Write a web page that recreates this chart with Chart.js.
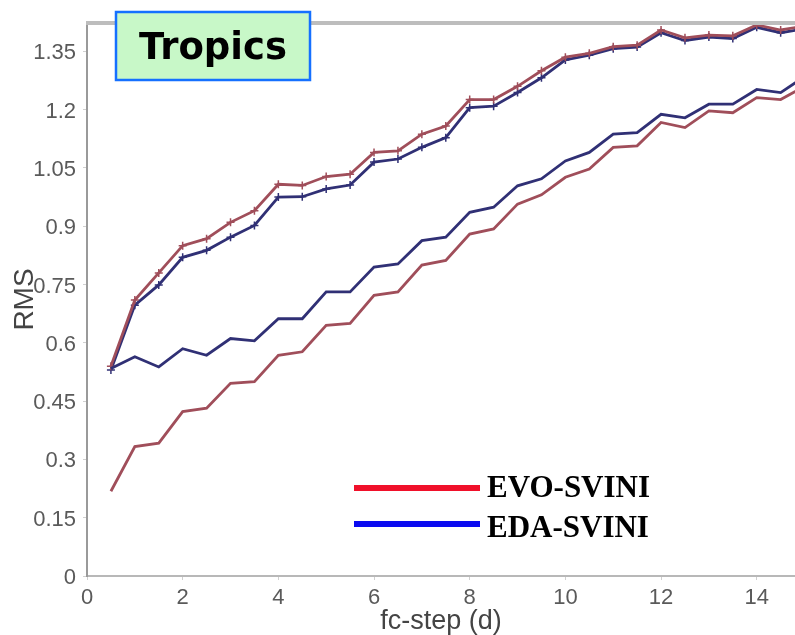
<!DOCTYPE html>
<html>
<head>
<meta charset="utf-8">
<script src="https://cdn.jsdelivr.net/npm/chart.js@4.4.1/dist/chart.umd.min.js"></script>
<style>
  html, body { margin: 0; padding: 0; background: #fff; }
  #wrap { position: relative; width: 795px; height: 635px; }
  canvas { display: block; }
</style>
</head>
<body>
<div id="wrap"><canvas id="rmsChart" width="795" height="635"></canvas></div>
<script>
// forecast step in days
const steps = [0.5, 1, 1.5, 2, 2.5, 3, 3.5, 4, 4.5, 5, 5.5, 6, 6.5, 7, 7.5,
               8, 8.5, 9, 9.5, 10, 10.5, 11, 11.5, 12, 12.5, 13, 13.5, 14, 14.5, 15];

// upper pair (with + markers)
const evoUpper = [0.54, 0.71, 0.78, 0.85, 0.868, 0.91, 0.94, 1.008, 1.005, 1.028,
                  1.034, 1.09, 1.094, 1.137, 1.158, 1.226, 1.226, 1.26, 1.30, 1.335,
                  1.345, 1.362, 1.366, 1.405, 1.385, 1.392, 1.39, 1.418, 1.405, 1.415];
const edaUpper = [0.53, 0.697, 0.749, 0.82, 0.838, 0.872, 0.902, 0.975, 0.976, 0.996,
                  1.006, 1.065, 1.073, 1.103, 1.128, 1.205, 1.209, 1.244, 1.282, 1.328,
                  1.34, 1.357, 1.361, 1.398, 1.378, 1.387, 1.383, 1.412, 1.398, 1.408];

// lower pair
const evoLower = [0.218, 0.333, 0.342, 0.423, 0.432, 0.496, 0.50, 0.568, 0.577, 0.645,
                  0.65, 0.722, 0.731, 0.80, 0.812, 0.88, 0.893, 0.957, 0.981, 1.026,
                  1.047, 1.103, 1.107, 1.167, 1.154, 1.197, 1.192, 1.231, 1.226, 1.26];
const edaLower = [0.534, 0.564, 0.538, 0.585, 0.568, 0.611, 0.605, 0.662, 0.662, 0.731,
                  0.731, 0.795, 0.803, 0.863, 0.872, 0.936, 0.949, 1.004, 1.022, 1.068,
                  1.09, 1.137, 1.141, 1.188, 1.179, 1.214, 1.214, 1.252, 1.244, 1.285];

const xTicks = [0, 2, 4, 6, 8, 10, 12, 14];
const yTicks = [0, 0.15, 0.3, 0.45, 0.6, 0.75, 0.9, 1.05, 1.2, 1.35];
const legendLabels = ['EVO-SVINI', 'EDA-SVINI'];
const panelTitle = 'Tropics';

const evoColor = '#a04e5a';
const edaColor = '#303075';

function points(values) {
    return steps.map((s, i) => ({ x: s, y: values[i] }));
}

function series(values, color, marked) {
    return {
        data: points(values),
        borderColor: color,
        backgroundColor: color,
        borderWidth: 2.8,
        tension: 0,
        pointStyle: 'cross',
        pointRadius: marked ? 4 : 0,
        pointBorderWidth: 1.5,
        pointBorderColor: color
    };
}

// title box, top frame line and the legend inside the plot
const decorations = {
    id: 'decorations',
    afterDraw(chart) {
        const ctx = chart.ctx;
        const area = chart.chartArea;
        ctx.save();

        ctx.strokeStyle = '#bdbdbd';
        ctx.lineWidth = 4;
        ctx.beginPath();
        ctx.moveTo(area.left - 1, area.top);
        ctx.lineTo(area.right, area.top);
        ctx.stroke();

        ctx.fillStyle = '#c8f8c8';
        ctx.fillRect(116, 12, 194, 68);
        ctx.strokeStyle = '#1570ff';
        ctx.lineWidth = 2.5;
        ctx.strokeRect(116, 12, 194, 68);
        ctx.fillStyle = '#000';
        ctx.font = 'bold 37px "DejaVu Sans"';
        ctx.textAlign = 'center';
        ctx.textBaseline = 'alphabetic';
        ctx.fillText(panelTitle, 213, 59);

        ctx.fillStyle = '#f0102a';
        ctx.fillRect(354, 485, 126, 6);
        ctx.fillStyle = '#0a0af0';
        ctx.fillRect(354, 521, 126, 6);
        ctx.fillStyle = '#000';
        ctx.font = 'bold 31px "Liberation Serif"';
        ctx.textAlign = 'left';
        ctx.fillText(legendLabels[0], 487, 497);
        ctx.fillText(legendLabels[1], 487, 537);
        ctx.restore();
    }
};

new Chart(document.getElementById('rmsChart'), {
    type: 'line',
    data: {
        datasets: [
            series(evoLower, evoColor, false),
            series(edaLower, edaColor, false),
            series(evoUpper, evoColor, true),
            series(edaUpper, edaColor, true)
        ]
    },
    options: {
        responsive: false,
        animation: false,
        layout: { autoPadding: false, padding: { top: 23, right: 0, left: 0, bottom: 0 } },
        plugins: {
            legend: { display: false },
            tooltip: { enabled: false }
        },
        scales: {
            x: {
                type: 'linear',
                min: 0,
                max: 14.8,
                afterBuildTicks: (scale) => { scale.ticks = xTicks.map(v => ({ value: v })); },
                afterFit: (scale) => {
                    scale.height = 59;
                    scale.paddingLeft = 0;
                    scale.paddingRight = 0;
                },
                ticks: {
                    color: '#5a5a5a',
                    font: { family: '"Liberation Sans"', size: 22 },
                    padding: 5,
                    maxRotation: 0
                },
                grid: { drawOnChartArea: false, drawTicks: true, tickLength: 4, color: '#d0d0d0' },
                border: { display: true, color: '#b8b8b8', width: 2 },
                title: {
                    display: true,
                    text: 'fc-step (d)',
                    color: '#444',
                    font: { family: '"Liberation Sans"', size: 27 },
                    padding: { top: 0, bottom: -3 }
                }
            },
            y: {
                min: 0,
                max: 1.423,
                afterBuildTicks: (scale) => { scale.ticks = yTicks.map(v => ({ value: v })); },
                afterFit: (scale) => {
                    scale.width = 87;
                    scale.paddingTop = 0;
                    scale.paddingBottom = 0;
                },
                ticks: {
                    color: '#5a5a5a',
                    font: { family: '"Liberation Sans"', size: 22 },
                    padding: 7,
                    labelOffset: 2,
                    callback: (v) => String(+v.toFixed(2))
                },
                grid: { drawOnChartArea: false, drawTicks: true, tickLength: 4, color: '#d0d0d0' },
                border: { display: true, color: '#9a9a9a', width: 2 },
                title: {
                    display: true,
                    text: 'RMS',
                    color: '#444',
                    font: { family: '"Liberation Sans"', size: 28 },
                    padding: { top: 8, bottom: 0 }
                }
            }
        }
    },
    plugins: [decorations]
});
</script>
</body>
</html>
